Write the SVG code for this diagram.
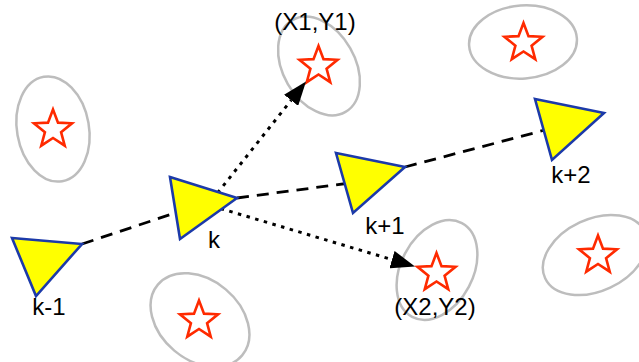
<svg xmlns="http://www.w3.org/2000/svg" width="639" height="362" viewBox="0 0 639 362">
<style>
.zone{fill:none;stroke:#bdbdbd;stroke-width:2.5}
.star{fill:#fff;stroke:#ff2a00;stroke-width:2.6;stroke-linejoin:miter}
.tri{fill:#ffff00;stroke:#1c3aa9;stroke-width:2.6;stroke-linejoin:miter}
.dash{fill:none;stroke:#000;stroke-width:2.8;stroke-dasharray:12 8}
.dot{fill:none;stroke:#000;stroke-width:3;stroke-dasharray:3.5 5.5}
.lbl{font-family:"Liberation Sans",Arial,Helvetica,sans-serif;font-size:24px;fill:#000;text-anchor:middle}
</style>
<defs>
<polygon id="starShape" points="0,-20 5,-6.88 19.02,-6.18 8.08,2.63 11.76,16.18 0,8.5 -11.76,16.18 -8.08,2.63 -19.02,-6.18 -5,-6.88"/>
<marker id="arrow" markerUnits="userSpaceOnUse" viewBox="0 0 24 18" refX="0" refY="9" markerWidth="24" markerHeight="18" orient="auto">
<path d="M0,0 L24,9 L0,18 z" fill="#000"/>
</marker>
</defs>

<g id="landmarks">
<g id="lm-left"><ellipse class="zone" cx="53" cy="129" rx="36" ry="53" transform="rotate(-10 53 129)"/><use href="#starShape" class="star" x="53" y="129.5"/></g>
<g id="lm-topright"><ellipse class="zone" cx="523" cy="42" rx="54" ry="36.5" transform="rotate(-4 523 42)"/><use href="#starShape" class="star" x="523.5" y="43"/></g>
<g id="lm-x1y1"><ellipse class="zone" cx="319" cy="66" rx="36" ry="53" transform="rotate(-30 319 66)"/><use href="#starShape" class="star" x="318.5" y="66"/></g>
<g id="lm-x2y2"><ellipse class="zone" cx="437" cy="270" rx="36" ry="53" transform="rotate(28 437 270)"/><use href="#starShape" class="star" x="436.5" y="273"/></g>
<g id="lm-bottomright"><ellipse class="zone" cx="595" cy="255" rx="55" ry="36" transform="rotate(-25 595 255)"/><use href="#starShape" class="star" x="598" y="255.5"/></g>
<g id="lm-bottom"><ellipse class="zone" cx="200" cy="320" rx="55" ry="40" transform="rotate(40 200 320)"/><use href="#starShape" class="star" x="199" y="320.5"/></g>
</g>

<g id="connectors">
<line class="dash" x1="82" y1="244" x2="190" y2="208"/>
<line class="dash" x1="237" y1="198" x2="350" y2="183"/>
<line class="dash" x1="405" y1="167" x2="545" y2="130"/>
<line class="dot" x1="212" y1="200" x2="291.1" y2="100.3" marker-end="url(#arrow)"/>
<line class="dot" x1="212" y1="206" x2="392" y2="259.6" marker-end="url(#arrow)"/>
</g>

<g id="pose-k-1"><polygon class="tri" points="12,238 82,244 36,296"/><text class="lbl" x="49" y="315">k-1</text></g>
<g id="pose-k"><polygon class="tri" points="170,177 237,198 180,239"/><text class="lbl" x="214" y="248">k</text></g>
<g id="pose-k+1"><polygon class="tri" points="336,153 405,167 353,213"/><text class="lbl" x="385" y="234">k+1</text></g>
<g id="pose-k+2"><polygon class="tri" points="535,99 604,113 552,160"/><text class="lbl" x="571" y="183">k+2</text></g>

<g id="labels">
<text class="lbl" x="315" y="30">(X1,Y1)</text>
<text class="lbl" x="435" y="315">(X2,Y2)</text>
</g>
</svg>
